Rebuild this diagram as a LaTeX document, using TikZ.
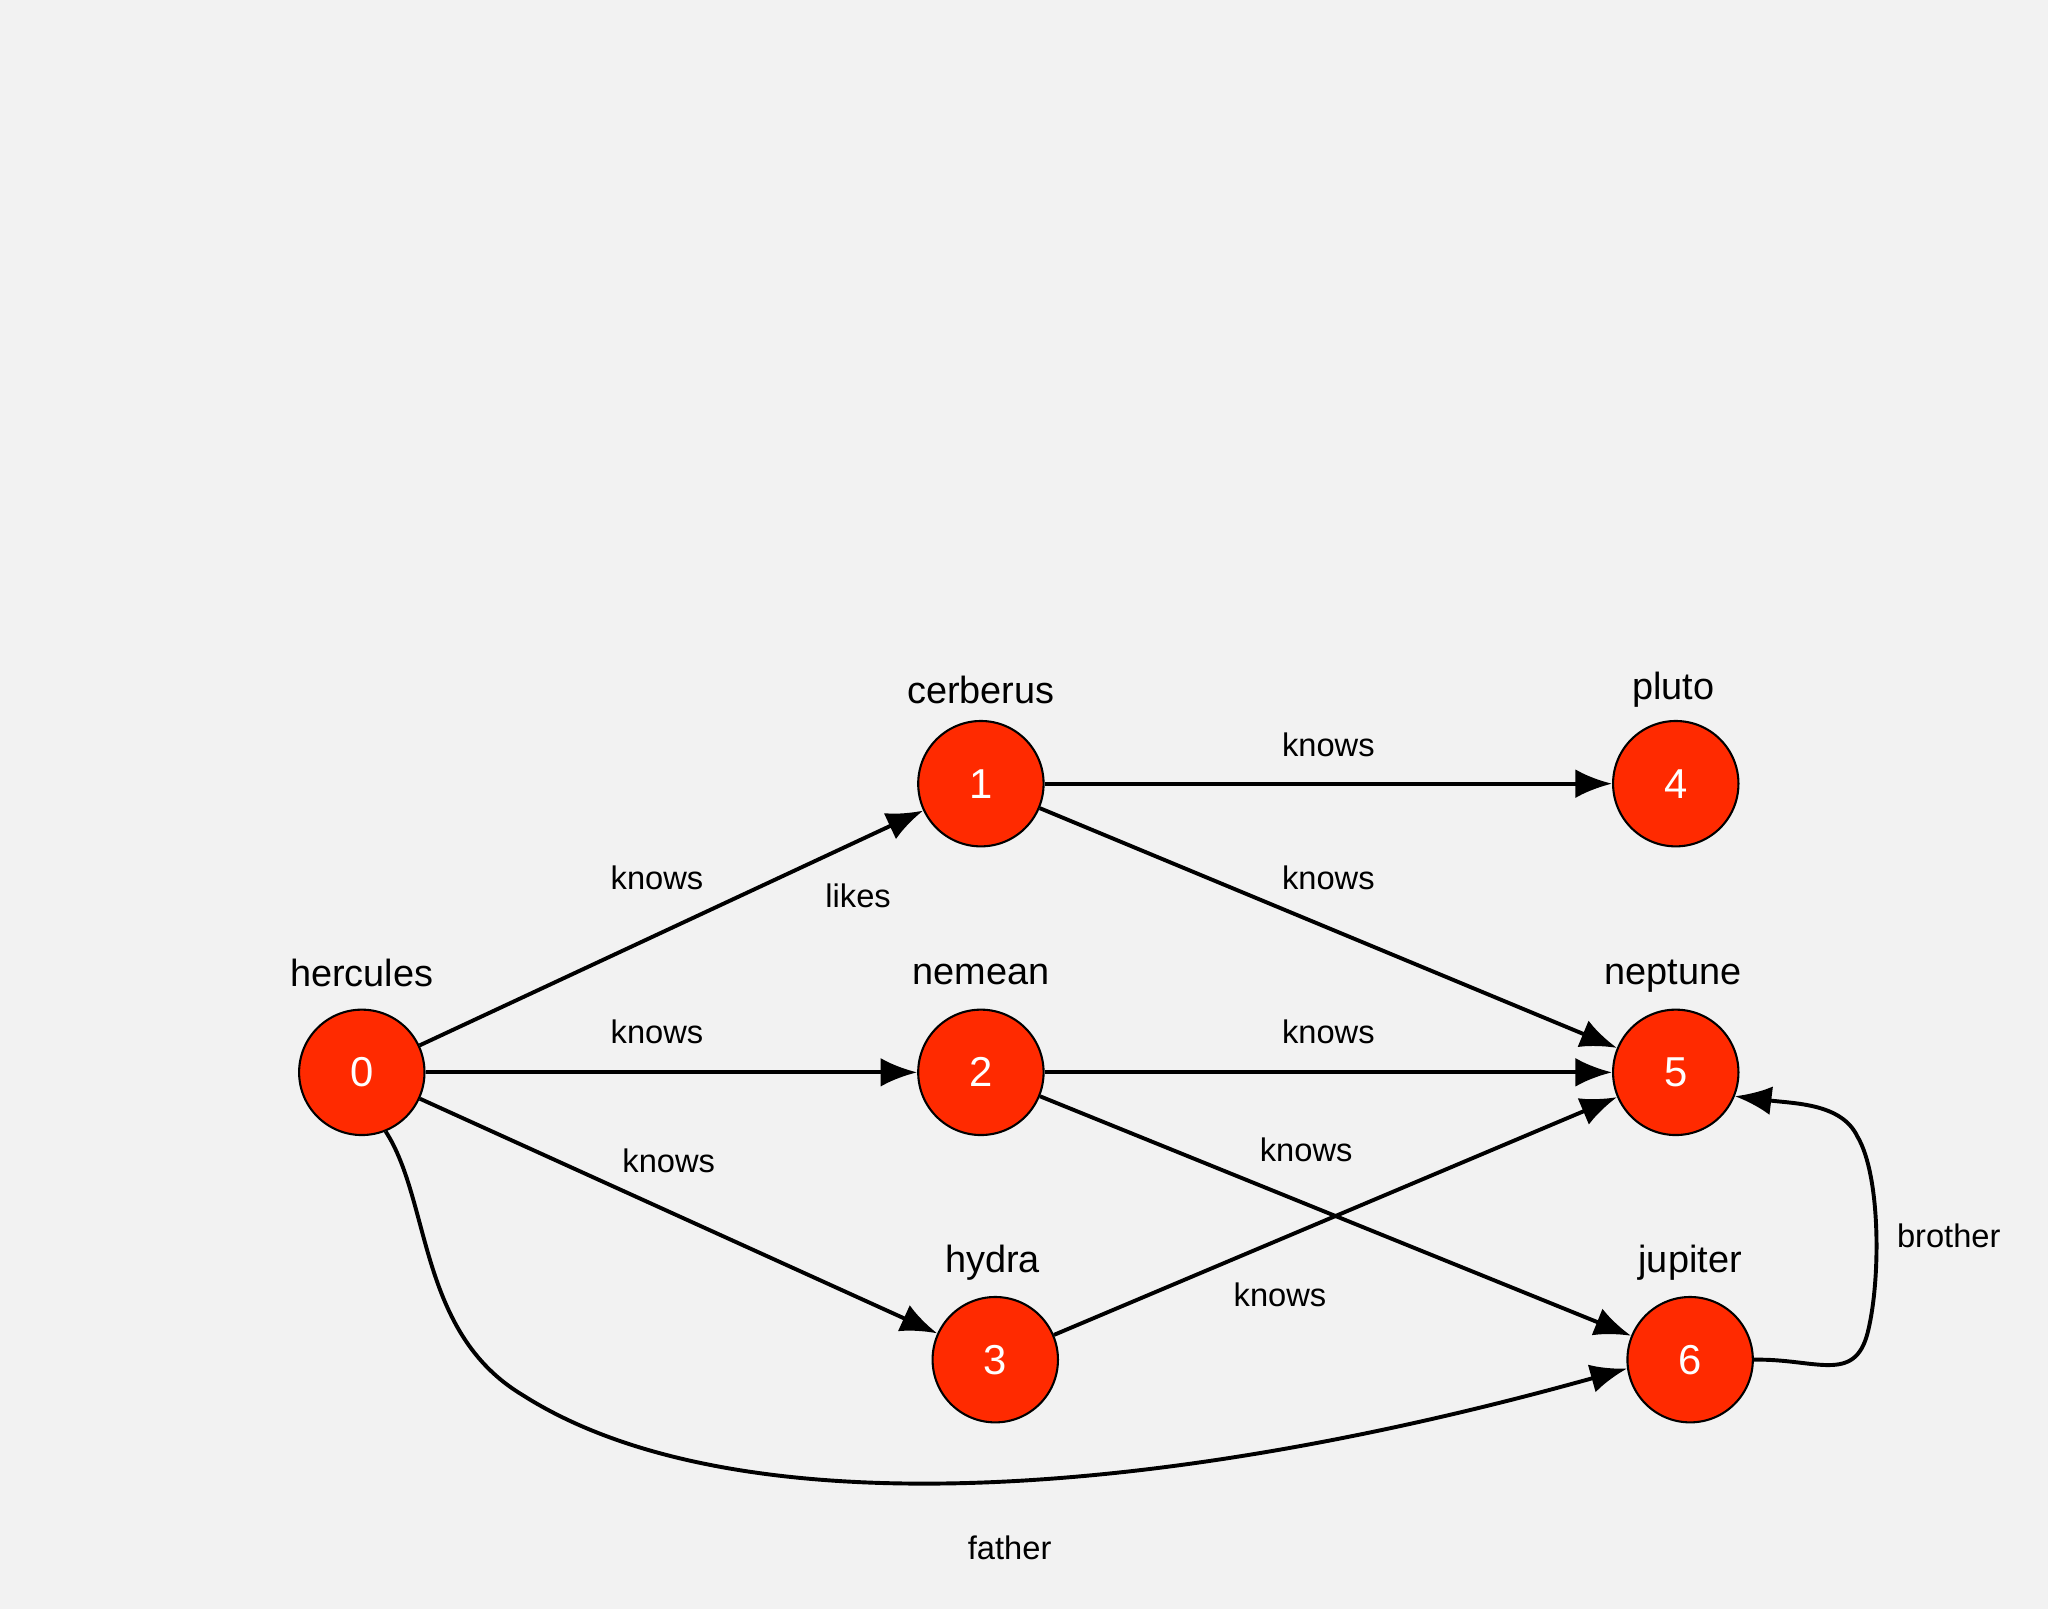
\documentclass[tikz,border=0pt]{standalone}
\usepackage{fontspec}
\setmainfont{Liberation Sans}
\usetikzlibrary{arrows.meta}
\definecolor{bg}{HTML}{F2F2F2}
\definecolor{nd}{HTML}{FF2A00}
\begin{document}
\begin{tikzpicture}[x=0.5pt,y=-0.5pt,
  vert/.style={circle,draw=black,line width=0.8pt,fill=nd,minimum size=48pt,inner sep=0pt,text=white,font=\fontsize{16}{18}\selectfont},
  vlab/.style={font=\fontsize{14.5}{16}\selectfont},
  elab/.style={font=\fontsize{12.5}{14}\selectfont},
  edge/.style={line width=1.5pt,-{Latex[length=14pt,width=11pt]}}]
\fill[bg] (0,0) rectangle (1568,1232);
\useasboundingbox (0,0) rectangle (1568,1232);
\node[vert] (n0) at (277,821) {0};
\node[vert] (n1) at (751,600) {1};
\node[vert] (n2) at (751,821) {2};
\node[vert] (n3) at (762,1041) {3};
\node[vert] (n4) at (1283,600) {4};
\node[vert] (n5) at (1283,821) {5};
\node[vert] (n6) at (1294,1041) {6};
\node[vlab] (l0) at (277,745) {hercules};
\node[vlab] (l1) at (751,528) {cerberus};
\node[vlab] (l2) at (751,746) {nemean};
\node[vlab] (l3) at (760,967) {hydra};
\node[vlab] (l4) at (1281,528) {pluto};
\node[vlab] (l5) at (1281,747) {neptune};
\node[vlab] (l6) at (1294,967) {jupiter};
\draw[edge] (n0) -- (n1);
\draw[edge] (n0) -- (n2);
\draw[edge] (n0) -- (n3);
\draw[edge] (n1) -- (n4);
\draw[edge] (n1) -- (n5);
\draw[edge] (n2) -- (n5);
\draw[edge] (n2) -- (n6);
\draw[edge] (n3) -- (n5);
\draw[edge] (n0.-68) .. controls (330,920) and (320,1020) .. (400,1068) .. controls (560,1170) and (880,1150) .. (n6.188);
\draw[edge] (n6.east) .. controls (1390,1040) and (1420,1060) .. (1430,1020) .. controls (1440,980) and (1440,900) .. (1422,870) .. controls (1410,845) and (1375,845) .. (n5.-22);
\node[elab] (e1) at (503,672) {knows};
\node[elab] (e1b) at (657,686) {likes};
\node[elab] (e2) at (503,790) {knows};
\node[elab] (e3) at (512,889) {knows};
\node[elab] (e4) at (1017,570) {knows};
\node[elab] (e5) at (1017,672) {knows};
\node[elab] (e6) at (1017,790) {knows};
\node[elab] (e7) at (1000,880) {knows};
\node[elab] (e8) at (980,991) {knows};
\node[elab] (e9) at (1492,946) {brother};
\node[elab] (e10) at (773,1185) {father};
\end{tikzpicture}
\end{document}
